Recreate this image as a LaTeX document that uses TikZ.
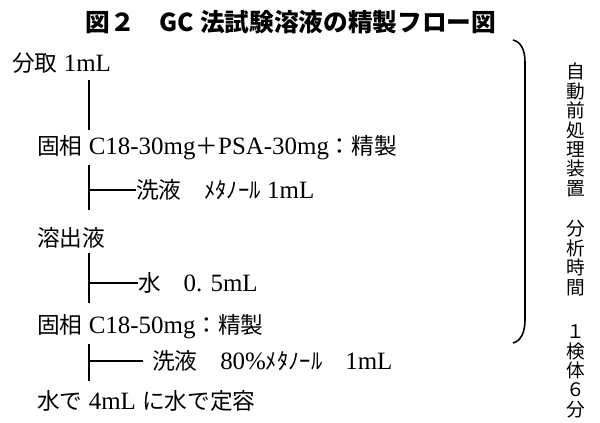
\documentclass[tikz,border=0pt]{standalone}
\usepackage{fontspec}
\setmainfont{Liberation Serif}[Scale=1.1]
\newfontfamily\jp{Noto Sans CJK JP}
\begin{document}
\begin{tikzpicture}[x=0.75pt,y=-0.75pt,
  row/.style={anchor=west, inner sep=0pt, font=\fontsize{17}{20}\selectfont},
  ttl/.style={inner sep=0pt, font=\jp\bfseries\fontsize{18.5}{22}\selectfont},
  vtext/.style={inner sep=0pt, align=center, font=\jp\fontsize{14}{14.55}\selectfont},
  flow/.style={line width=1.1pt},
  flowthick/.style={line width=2.2pt},
  brace/.style={line width=1.2pt}]
\useasboundingbox (0,0) rectangle (600,423);
\node[ttl] (title) at (291,22) {図２　GC 法試験溶液の精製フロー図};
\node[row] (r1) at (12,63) {{\jp 分取} 1mL};
\node[row] (r2) at (37,148) {{\jp 固相} C18-30mg{\jp ＋}PSA-30mg{\jp ：精製}};
\node[row] (w1) at (136,190) {{\jp 洗液　ﾒﾀﾉｰﾙ} 1mL};
\node[row] (r3) at (37,238) {{\jp 溶出液}};
\node[row] (w2) at (138,283) {{\jp 水　}0. 5mL};
\node[row] (r4) at (37,327) {{\jp 固相} C18-50mg{\jp ：精製}};
\node[row] (w3) at (152,361) {{\jp 洗液　}80\%{\jp ﾒﾀﾉｰﾙ　}1mL};
\node[row] (r5) at (37,401) {{\jp 水で} 4mL {\jp に水で定容}};
% connectors
\coordinate (a1) at (89,80);  \coordinate (a2) at (89,130);
\coordinate (b1) at (89,165); \coordinate (b2) at (89,210); \coordinate (bm) at (89,190);
\coordinate (c1) at (89,253); \coordinate (c2) at (89,303); \coordinate (cm) at (89,283);
\coordinate (d1) at (89,344); \coordinate (d2) at (89,381); \coordinate (dm) at (89,361);
\coordinate (de) at (143,361);
\draw[flow] (a1) -- (a2);
\draw[flow] (b1) -- (b2);
\draw[flow] (bm) -- (w1.west);
\draw[flowthick] (c1) -- (c2);
\draw[flow] (cm) -- (w2.west);
\draw[flow] (d1) -- (d2);
\draw[flow] (dm) -- (de);
% brace
\coordinate (bt) at (513,40); \coordinate (bb) at (513,343);
\draw[brace] (bt) .. controls (521,42) and (525,50) .. (525,62) -- (525,320) .. controls (525,332) and (521,341) .. (bb);
% vertical text
\node[vtext] (v1) at (576,130) {自\\動\\前\\処\\理\\装\\置};
\node[vtext] (v2) at (576,258) {分\\析\\時\\間};
\node[vtext] (v3) at (576,371.5) {１\\検\\体\\６\\分};
\end{tikzpicture}
\end{document}
